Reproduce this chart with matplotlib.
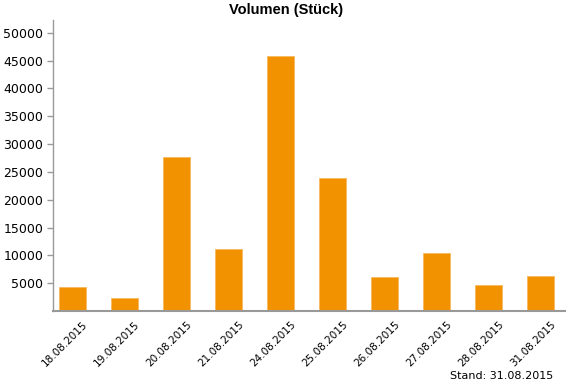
import matplotlib
matplotlib.use("Agg")
import matplotlib.pyplot as plt
import matplotlib.transforms as mtransforms

dates = ["18.08.2015", "19.08.2015", "20.08.2015", "21.08.2015", "24.08.2015",
         "25.08.2015", "26.08.2015", "27.08.2015", "28.08.2015", "31.08.2015"]
volumes = [4300, 2250, 27700, 11150, 45900, 23900, 6050, 10400, 4700, 6300]
yticks = [5000, 10000, 15000, 20000, 25000, 30000, 35000, 40000, 45000, 50000]

fig = plt.figure(figsize=(5.7, 3.9), dpi=100)
ax = fig.add_axes([0.093, 0.2026, 0.898, 0.746])
x = list(range(len(dates)))
ax.bar(x, volumes, width=0.52, color="#F39200", edgecolor="#F7B860", linewidth=0.6)
ax.set_xlim(-0.375, len(dates) - 1 + 0.47)
ax.set_ylim(0, 52300)
ax.set_yticks(yticks)
ax.set_yticklabels([str(v) for v in yticks], fontsize=9, family="DejaVu Sans")
ax.set_xticks(x)
ax.set_xticklabels([])
ax.tick_params(axis="x", length=0)
base = mtransforms.blended_transform_factory(ax.transData, ax.transAxes)
offset = mtransforms.ScaledTranslation(10 / 100, -8 / 100, fig.dpi_scale_trans)
for xi, d in zip(x, dates):
    ax.text(xi, 0, d, transform=base + offset, rotation=45, ha="right", va="top",
            rotation_mode="anchor", fontsize=7.5, family="DejaVu Sans")
ax.tick_params(axis="y", length=4, color="#999999", width=1, pad=3)
for s in ["top", "right"]:
    ax.spines[s].set_visible(False)
for s in ["left", "bottom"]:
    ax.spines[s].set_color("#999999")
ax.spines["bottom"].set_linewidth(1.5)
ax.spines["left"].set_linewidth(1.0)
fig.text(0.502, 0.974, "Volumen (Stück)", ha="center", va="center",
         fontsize=10.5, fontweight="bold", family="Liberation Sans")
fig.text(0.97, 0.035, "Stand: 31.08.2015", ha="right", va="center",
         fontsize=8, family="DejaVu Sans")
fig.savefig("out.png", dpi=100)
